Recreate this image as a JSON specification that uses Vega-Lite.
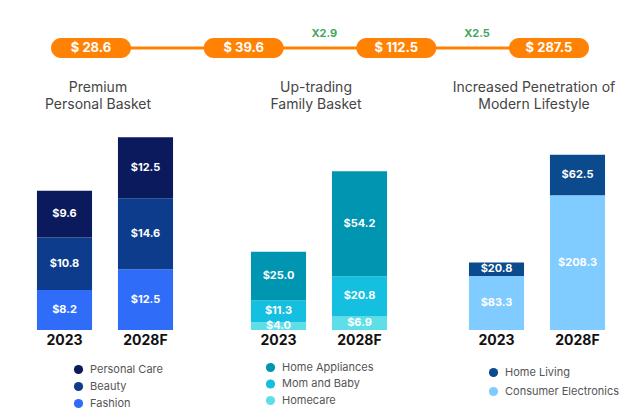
{
  "$schema": "https://vega.github.io/schema/vega-lite/v6.json",
  "background": "white",
  "padding": {"left": 24, "top": 28, "right": 0, "bottom": 0},
  "config": {"view": {"stroke": null}, "font": "Inter"},
  "spacing": 23,
  "datasets": {
    "pills": [
      {"label": "$ 28.6"}, {"label": "$ 39.6"}, {"label": "$ 112.5"}, {"label": "$ 287.5"}
    ],
    "mult": [
      {"to": "$ 112.5", "text": "X2.9"}, {"to": "$ 287.5", "text": "X2.5"}
    ],
    "p1": [
      {"year": "2023", "cat": "Fashion", "k": 1, "value": 8.2},
      {"year": "2023", "cat": "Beauty", "k": 2, "value": 10.8},
      {"year": "2023", "cat": "Personal Care", "k": 3, "value": 9.6},
      {"year": "2028F", "cat": "Fashion", "k": 1, "value": 12.5},
      {"year": "2028F", "cat": "Beauty", "k": 2, "value": 14.6},
      {"year": "2028F", "cat": "Personal Care", "k": 3, "value": 12.5}
    ],
    "p2": [
      {"year": "2023", "cat": "Homecare", "k": 1, "value": 4.0},
      {"year": "2023", "cat": "Mom and Baby", "k": 2, "value": 11.3},
      {"year": "2023", "cat": "Home Appliances", "k": 3, "value": 25.0},
      {"year": "2028F", "cat": "Homecare", "k": 1, "value": 6.9},
      {"year": "2028F", "cat": "Mom and Baby", "k": 2, "value": 20.8},
      {"year": "2028F", "cat": "Home Appliances", "k": 3, "value": 54.2}
    ],
    "p3": [
      {"year": "2023", "cat": "Consumer Electronics", "k": 1, "value": 83.3},
      {"year": "2023", "cat": "Home Living", "k": 2, "value": 20.8},
      {"year": "2028F", "cat": "Consumer Electronics", "k": 1, "value": 208.3},
      {"year": "2028F", "cat": "Home Living", "k": 2, "value": 62.5}
    ]
  },
  "vconcat": [
    {
      "width": 592,
      "height": 20,
      "encoding": {
        "x": {"type": "nominal", "scale": {"type": "band", "domain": ["$ 28.6", "$ 39.6", "$ 112.5", "$ 287.5"], "paddingInner": 0.476, "paddingOuter": 0.177}, "axis": null}
      },
      "layer": [
        {
          "data": {"name": "pills"},
          "mark": {"type": "line", "color": "#ff8205", "strokeWidth": 3},
          "encoding": {
            "x": {"field": "label", "type": "nominal"},
            "y": {"datum": "row", "type": "nominal", "axis": null}
          }
        },
        {
          "data": {"name": "pills"},
          "mark": {"type": "bar", "color": "#ff8205", "cornerRadius": 10},
          "encoding": {"x": {"field": "label", "type": "nominal"}}
        },
        {
          "data": {"name": "pills"},
          "mark": {"type": "text", "color": "white", "fontWeight": "bold", "fontSize": 13},
          "encoding": {
            "x": {"field": "label", "type": "nominal"},
            "y": {"datum": "row", "type": "nominal", "axis": null},
            "text": {"field": "label"}
          }
        },
        {
          "data": {"name": "mult"},
          "mark": {"type": "text", "color": "#3fa65e", "fontWeight": "bold", "fontSize": 11, "dx": -72, "dy": -14},
          "encoding": {
            "x": {"field": "to", "type": "nominal"},
            "y": {"datum": "row", "type": "nominal", "axis": null},
            "text": {"field": "text"}
          }
        }
      ]
    },
    {
      "spacing": 52,
      "hconcat": [
        {
          "width": 162, "height": 200,
          "data": {"name": "p1"},
          "title": {"text": ["Premium", "Personal Basket"], "fontSize": 14, "fontWeight": "normal", "color": "#454545", "lineHeight": 17, "offset": 18, "anchor": "middle", "dx": -7},
          "encoding": {
            "x": {"field": "year", "type": "nominal", "scale": {"paddingInner": 0.32, "paddingOuter": 0.16}, "axis": {"title": null, "labelAngle": 0, "labelFontSize": 14, "labelFontWeight": "bold", "labelColor": "#111111", "ticks": false, "domain": false, "labelPadding": 3, "grid": false}},
            "y": {"field": "value", "type": "quantitative", "stack": "zero", "scale": {"domain": [0, 41.1]}, "axis": null},
            "order": {"field": "k", "type": "quantitative", "sort": "ascending"},
            "color": {"field": "cat", "type": "nominal", "scale": {"domain": ["Personal Care", "Beauty", "Fashion"], "range": ["#0b1a5c", "#0d3c8c", "#2f6cf8"]},
              "legend": {"title": null, "orient": "none", "legendX": 49, "legendY": 234, "symbolType": "circle", "symbolSize": 85, "symbolStrokeWidth": 0, "labelFontSize": 11, "labelColor": "#555555", "labelOffset": 6, "rowPadding": 5, "padding": 0}}
          },
          "layer": [
            {"mark": {"type": "bar"}},
            {"mark": {"type": "text", "fontWeight": "bold", "fontSize": 11},
             "encoding": {
               "y": {"field": "value", "type": "quantitative", "stack": "zero", "bandPosition": 0.5},
               "fill": {"value": "white"},
               "text": {"field": "value", "type": "quantitative", "format": "$.1f"}
             }}
          ]
        },
        {
          "width": 162, "height": 200,
          "data": {"name": "p2"},
          "title": {"text": ["Up-trading", "Family Basket"], "fontSize": 14, "fontWeight": "normal", "color": "#454545", "lineHeight": 17, "offset": 18, "anchor": "middle", "dx": -3},
          "encoding": {
            "x": {"field": "year", "type": "nominal", "scale": {"paddingInner": 0.32, "paddingOuter": 0.16}, "axis": {"title": null, "labelAngle": 0, "labelFontSize": 14, "labelFontWeight": "bold", "labelColor": "#111111", "ticks": false, "domain": false, "labelPadding": 3, "grid": false}},
            "y": {"field": "value", "type": "quantitative", "stack": "zero", "scale": {"domain": [0, 103.1]}, "axis": null},
            "order": {"field": "k", "type": "quantitative", "sort": "ascending"},
            "color": {"field": "cat", "type": "nominal", "scale": {"domain": ["Home Appliances", "Mom and Baby", "Homecare"], "range": ["#0096b1", "#14bfe0", "#5edfe7"]},
              "legend": {"title": null, "orient": "none", "legendX": 27, "legendY": 232, "symbolType": "circle", "symbolSize": 85, "symbolStrokeWidth": 0, "labelFontSize": 11, "labelColor": "#555555", "labelOffset": 6, "rowPadding": 4.5, "padding": 0}}
          },
          "layer": [
            {"mark": {"type": "bar"}},
            {"mark": {"type": "text", "fontWeight": "bold", "fontSize": 11},
             "encoding": {
               "y": {"field": "value", "type": "quantitative", "stack": "zero", "bandPosition": 0.5},
               "fill": {"value": "white"},
               "text": {"field": "value", "type": "quantitative", "format": "$.1f"}
             }}
          ]
        },
        {
          "width": 162, "height": 200,
          "data": {"name": "p3"},
          "title": {"text": ["Increased Penetration of", "Modern Lifestyle"], "fontSize": 14, "fontWeight": "normal", "color": "#454545", "lineHeight": 17, "offset": 18, "anchor": "middle", "dx": -3},
          "encoding": {
            "x": {"field": "year", "type": "nominal", "scale": {"paddingInner": 0.32, "paddingOuter": 0.16}, "axis": {"title": null, "labelAngle": 0, "labelFontSize": 14, "labelFontWeight": "bold", "labelColor": "#111111", "ticks": false, "domain": false, "labelPadding": 3, "grid": false}},
            "y": {"field": "value", "type": "quantitative", "stack": "zero", "scale": {"domain": [0, 309]}, "axis": null},
            "order": {"field": "k", "type": "quantitative", "sort": "ascending"},
            "color": {"field": "cat", "type": "nominal", "scale": {"domain": ["Home Living", "Consumer Electronics"], "range": ["#0b4a8c", "#80cbff"]},
              "legend": {"title": null, "orient": "none", "legendX": 32, "legendY": 237, "symbolType": "circle", "symbolSize": 85, "symbolStrokeWidth": 0, "labelFontSize": 11, "labelColor": "#555555", "labelOffset": 6, "rowPadding": 7, "padding": 0}}
          },
          "layer": [
            {"mark": {"type": "bar"}},
            {"mark": {"type": "text", "fontWeight": "bold", "fontSize": 11},
             "encoding": {
               "y": {"field": "value", "type": "quantitative", "stack": "zero", "bandPosition": 0.5},
               "fill": {"value": "white"},
               "text": {"field": "value", "type": "quantitative", "format": "$.1f"}
             }}
          ]
        }
      ],
      "resolve": {"scale": {"color": "independent", "y": "independent", "x": "independent"}, "legend": {"color": "independent"}}
    }
  ]
}
